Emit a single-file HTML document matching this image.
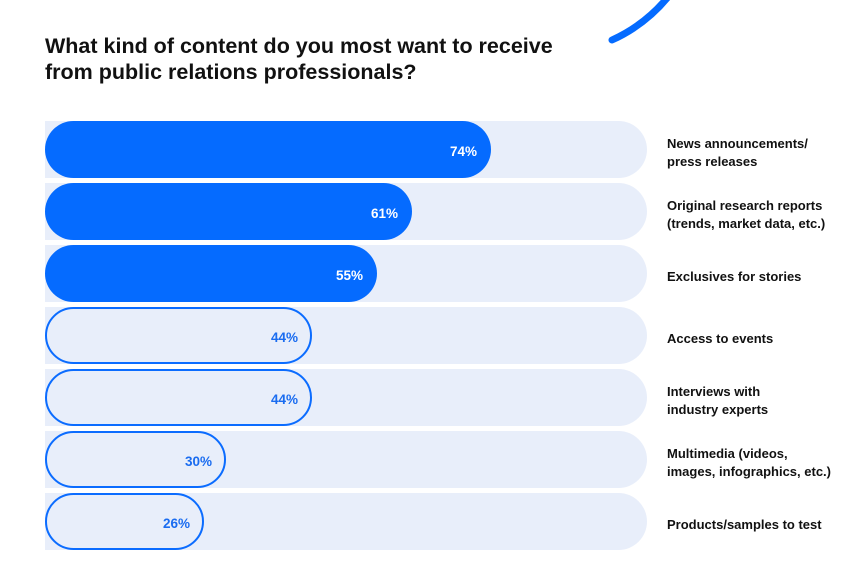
<!DOCTYPE html>
<html><head><style>
body{margin:0;background:#fff;width:856px;height:565px;overflow:hidden;position:relative;font-family:"Liberation Sans",sans-serif;}
.t{position:absolute;left:45px;top:33px;font-size:21.5px;font-weight:bold;line-height:26px;color:#111;letter-spacing:0px;}
.track{position:absolute;left:45px;width:602px;height:57px;background:#e8eefa;border-radius:0 29px 29px 0;}
.bar{position:absolute;left:45px;height:57px;border-radius:29px;box-sizing:border-box;font-weight:bold;font-size:13.5px;display:flex;align-items:center;justify-content:flex-end;padding-right:14px;padding-top:3px;}
.f{background:#056bff;color:#fff;}
.o{background:#e8eefa;border:2px solid #0b6cff;color:#1a6cf0;padding-right:12px;}
.lab{position:absolute;left:667px;font-size:13px;font-weight:bold;line-height:18px;color:#111;display:flex;align-items:center;height:57px;margin-top:3px;}
</style></head><body>
<svg style="position:absolute;left:0;top:0" width="856" height="565"><path d="M612 40 Q645 25 668 -3" stroke="#056bff" stroke-width="7" fill="none" stroke-linecap="round"/></svg>
<div class="t">What kind of content do you most want to receive<br>from public relations professionals?</div>

<div class="track" style="top:121px"></div><div class="bar f" style="top:121px;width:446px">74%</div><div class="lab" style="top:121px">News announcements/<br>press releases</div>
<div class="track" style="top:183px"></div><div class="bar f" style="top:183px;width:367px">61%</div><div class="lab" style="top:183px">Original research reports<br>(trends, market data, etc.)</div>
<div class="track" style="top:245px"></div><div class="bar f" style="top:245px;width:332px">55%</div><div class="lab" style="top:245px">Exclusives for stories</div>
<div class="track" style="top:307px"></div><div class="bar o" style="top:307px;width:267px">44%</div><div class="lab" style="top:307px">Access to events</div>
<div class="track" style="top:369px"></div><div class="bar o" style="top:369px;width:267px">44%</div><div class="lab" style="top:369px">Interviews with<br>industry experts</div>
<div class="track" style="top:431px"></div><div class="bar o" style="top:431px;width:181px">30%</div><div class="lab" style="top:431px">Multimedia (videos,<br>images, infographics, etc.)</div>
<div class="track" style="top:493px"></div><div class="bar o" style="top:493px;width:159px">26%</div><div class="lab" style="top:493px">Products/samples to test</div>
</body></html>
